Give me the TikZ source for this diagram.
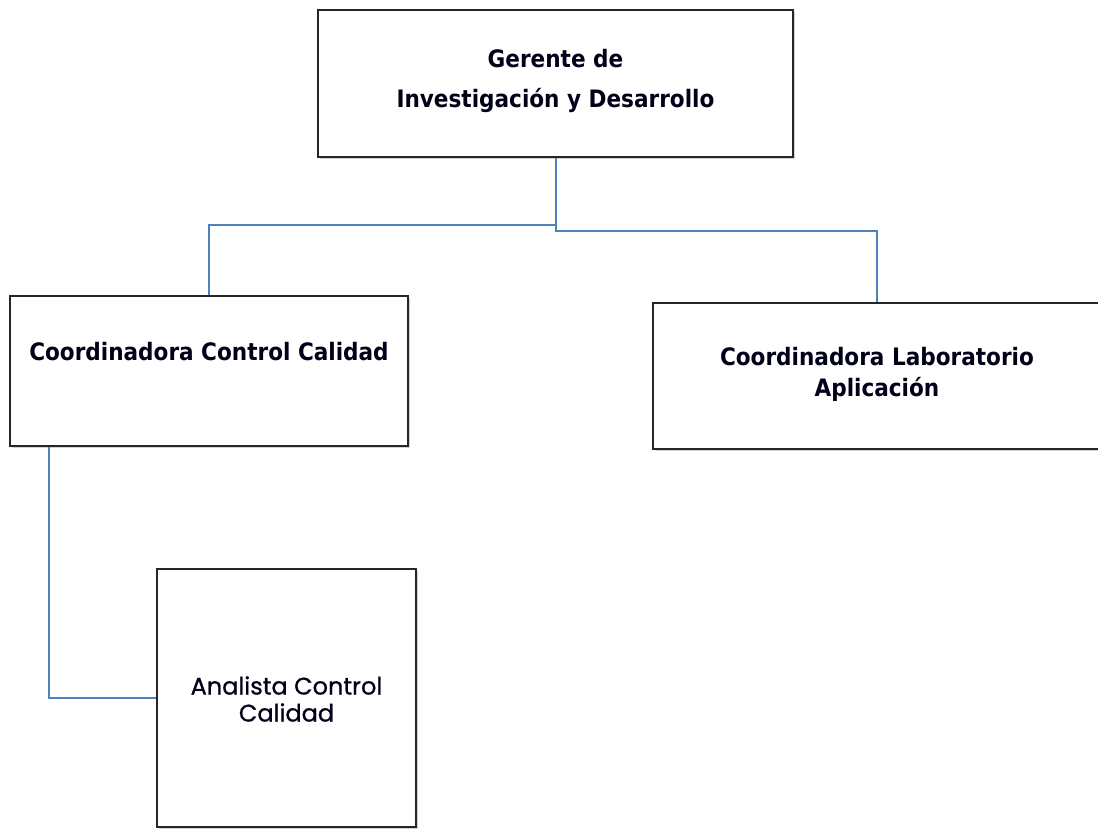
\documentclass[tikz,border=0pt]{standalone}
\usepackage{fontspec}
\setmainfont{DejaVu Sans Condensed}
\newfontfamily\roundfont[FakeBold=0.8]{Poppins}
\usetikzlibrary{shadows}
\definecolor{linkblue}{RGB}{79,129,189}
\begin{document}
\begin{tikzpicture}[x=1pt,y=-1pt,
  orgbox/.style={draw=black!85, line width=2pt, fill=white, inner sep=0pt,
    drop shadow={opacity=0.35, shadow xshift=2pt, shadow yshift=-2pt}},
  link/.style={draw=linkblue, line width=2pt},
  boxtext/.style={font=\fontsize{24}{40}\selectfont\bfseries, align=center, text=black!90!blue}]
\useasboundingbox (0,0) rectangle (1098,830);
\clip (0,0) rectangle (1098,830);
\fill[white] (0,0) rectangle (1098,830);

% boxes
\node[orgbox, minimum width=475pt, minimum height=147pt] (top) at (555.5,83.5) {};
\node[orgbox, minimum width=398pt, minimum height=150pt] (ccc) at (209,371) {};
\node[orgbox, minimum width=448pt, minimum height=146pt] (cla) at (877,376) {};
\node[orgbox, minimum width=259pt, minimum height=258pt] (acc) at (286.5,698) {};

% connectors
\draw[link] (top.south) -- ++(0,67) -| (ccc.north);
\draw[link] (top.south) -- ++(0,73) -| (cla.north);
\coordinate (cccfoot) at ([xshift=40pt]ccc.south west);
\draw[link] (cccfoot) |- (acc.west);

% labels
\node[boxtext] (toptext) at (555.5,81) {Gerente de\\Investigación y Desarrollo};
\node[boxtext] (ccctext) at (209,352) {Coordinadora Control Calidad};
\node[boxtext, font=\fontsize{24}{31}\selectfont\bfseries] (clatext) at (877,374) {Coordinadora Laboratorio\\Aplicación};
\node[boxtext, font=\roundfont\fontsize{24}{27}\selectfont] (acctext) at (286.5,699) {Analista Control\\Calidad};
\end{tikzpicture}
\end{document}
